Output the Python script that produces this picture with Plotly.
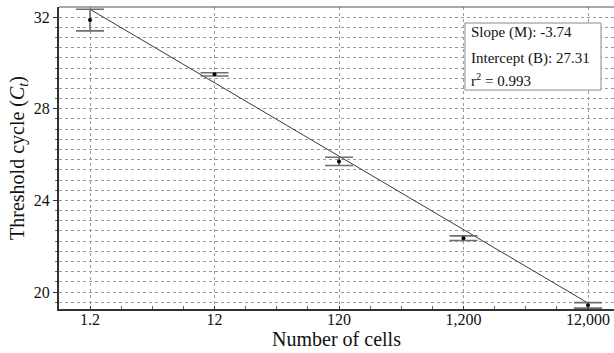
import numpy as np
import plotly.graph_objects as go

# Data
cells = [1.2, 12, 120, 1200, 12000]
tick_labels = ["1.2", "12", "120", "1,200", "12,000"]
ct_mean = [31.87, 29.50, 25.70, 22.35, 19.42]
ct_err = [0.47, 0.07, 0.18, 0.10, 0.12]
fit_cells = [1.2, 12000]
fit_ct = [32.34, 19.52]
y_ticks = [20, 24, 28, 32]
stats_lines = ["Slope (M): -3.74", "Intercept (B): 27.31", "r<sup>2</sup> = 0.993"]

x_log = np.log10(cells)
fit_x = np.log10(fit_cells)

FONT = "Liberation Serif"
GRID = "#9a9a9a"

fig = go.Figure()
fig.add_trace(go.Scatter(
    x=fit_x, y=fit_ct, mode="lines",
    line=dict(color="#3a3a3a", width=1), hoverinfo="skip", showlegend=False))
fig.add_trace(go.Scatter(
    x=x_log, y=ct_mean, mode="markers",
    marker=dict(color="black", size=4),
    error_y=dict(type="data", array=ct_err, visible=True,
                 color="#6e6e6e", thickness=1.6, width=14),
    showlegend=False))

fig.update_layout(
    width=614, height=353,
    margin=dict(l=59, r=0, t=7, b=44, autoexpand=False),
    paper_bgcolor="white", plot_bgcolor="white",
    font=dict(family=FONT, color="#111", size=15),
    xaxis=dict(
        range=[-0.170, 4.288],
        tickvals=list(x_log), ticktext=tick_labels,
        tickfont=dict(size=16, family=FONT),
        ticklabelstandoff=-5,
        showgrid=True, gridcolor=GRID, griddash="dot", gridwidth=1,
        showline=True, linecolor="#333", linewidth=2,
        ticks="inside", ticklen=3, tickcolor="#333",
        minor=dict(dtick=0.25, tick0=float(x_log[0]), ticks="inside",
                   ticklen=3, tickcolor="#666", showgrid=False),
        zeroline=False, automargin=False,
        title=dict(text="Number of cells", font=dict(size=20, family=FONT), standoff=2),
    ),
    yaxis=dict(
        range=[19.26, 32.44],
        tickvals=y_ticks,
        tickfont=dict(size=16, family=FONT),
        showgrid=True, gridcolor=GRID, griddash="dot", gridwidth=1,
        showline=True, linecolor="#333", linewidth=2,
        ticks="outside", ticklen=4, tickcolor="#333",
        minor=dict(dtick=4/9, tick0=20, ticks="outside", ticklen=2,
                   tickcolor="#666", showgrid=True, gridcolor=GRID,
                   griddash="dot", gridwidth=1),
        zeroline=False, automargin=False,
        title=dict(text="Threshold cycle (<i>C<sub>t</sub></i>)",
                   font=dict(size=20, family=FONT), standoff=4),
    ),
)

# top frame line
fig.add_shape(type="line", xref="paper", yref="paper", x0=0, x1=1, y0=1, y1=1,
              line=dict(color="#555", width=1))

# statistics box
fig.add_shape(type="rect", xref="paper", yref="paper",
              x0=0.7315, x1=0.9766, y0=0.725, y1=0.947,
              line=dict(color="#8a8a8a", width=1), fillcolor="white", layer="above")
for yy, txt in zip([0.914, 0.831, 0.758], stats_lines):
    fig.add_annotation(xref="paper", yref="paper", x=0.7387, y=yy,
                       xanchor="left", yanchor="middle", showarrow=False,
                       text=txt, font=dict(size=15, family=FONT, color="#111"))

fig.write_html("out.html", config={"displayModeBar": False},
               post_script="document.body.style.margin='0';document.body.style.padding='0';")
